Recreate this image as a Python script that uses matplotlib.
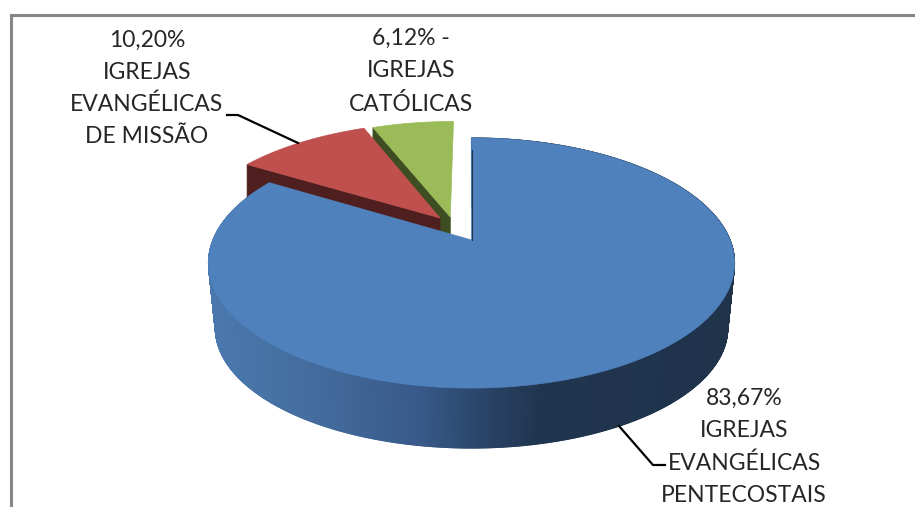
import numpy as np
import matplotlib
matplotlib.use("Agg")
import matplotlib.pyplot as plt
from matplotlib.collections import PolyCollection
from matplotlib.colors import LinearSegmentedColormap
from matplotlib.patches import Polygon

# data
shares = [83.67, 10.20, 6.12]
labels = ["83,67%\nIGREJAS\nEVANGÉLICAS\nPENTECOSTAIS",
          "10,20%\nIGREJAS\nEVANGÉLICAS\nDE MISSÃO",
          "6,12% -\nIGREJAS\nCATÓLICAS"]

# styles
top_colors = ["#4f81bd", "#c0504d", "#9bbb59"]
wall_colors = ["#1f3552", "#4f1f1f", "#3f4d22"]
offsets = [(0, 0), (-0.126, 0.188), (-0.085, 0.197)]
label_pos = [(744, 447), (147, 88.5), (411, 71.5)]

# perspective of the tilted disc, in image pixels
CX, CY = 471.5, 240
RX, RY = 258.5, 120.8
K = 0.184
DEPTH = 50.6


def project(u, v):
    w = 1 / (1 + K * v)
    return CX + RX * u * w, CY - RY * v * w, w


def rim(a0, a1, off, n=None):
    t = np.radians(np.linspace(a0, a1, n or int(abs(a1 - a0)) * 2 + 2))
    return project(np.sin(t) + off[0], np.cos(t) + off[1])


fig = plt.figure(figsize=(9.15, 5.07), dpi=100)
ax = fig.add_axes([0, 0, 1, 1])
ax.set_xlim(0, 915)
ax.set_ylim(507, 0)
ax.axis("off")

# chart frame
ax.plot([11, 11, 915], [507, 14.5, 14.5], color="#868686", lw=2.2, solid_joinstyle="miter")

edges = 360 * np.cumsum([0] + shares) / sum(shares)
side_cmap = LinearSegmentedColormap.from_list(
    "side", [(0, "#4a78ae"), (0.2, "#436c9c"), (0.4, "#38598a"), (0.5, "#2c486d"),
             (0.63, "#20354f"), (1, "#1f334b")])

# far slices first, the big one goes on top
for i in [2, 1, 0]:
    off = offsets[i]
    x, y, w = rim(edges[i], edges[i + 1], off, 1500 if i == 0 else None)
    ax0, ay0, aw = project(off[0], off[1])
    if i == 0:
        # bottom rim shrinks a little, camera looks down
        xb = 472.5 + (x - 472.5) * 0.974
        yb = 328 + (y - 263) * 0.96
        quads = [[(x[j], y[j]), (x[j + 1], y[j + 1]), (xb[j + 1], yb[j + 1]), (xb[j], yb[j])]
                 for j in range(len(x) - 1)]
        cols = side_cmap((x[:-1] - 209) / (736 - 209))
        ax.add_collection(PolyCollection(quads, facecolors=cols, edgecolors=cols, linewidths=0.8))
        ax.plot([x[0], ax0], [y[0] + 12, ay0], color=wall_colors[0], lw=0.8)
    else:
        # radial wall on the left side of the slice
        wall = [(ax0, ay0), (x[0], y[0]), (x[0], y[0] + DEPTH * w[0]), (ax0, ay0 + DEPTH * aw)]
        ax.add_patch(Polygon(wall, closed=True, fc=wall_colors[i], ec=wall_colors[i], lw=0.5))
    pts = [(ax0, ay0)] + list(zip(x, y))
    ax.add_patch(Polygon(pts, closed=True, fc=top_colors[i], ec=top_colors[i], lw=0.5))

# labels
for txt, (lx, ly) in zip(labels, label_pos):
    ax.text(lx, ly, txt, ha="center", va="center", family="Lato", fontsize=16.5,
            color="#262626", linespacing=1.64)

# leader lines
ax.plot([227, 238, 298], [115, 115, 143], color="black", lw=1.6)
ax.plot([619, 653, 665], [426, 465, 465], color="black", lw=1.6)

fig.savefig("out.png", dpi=100)
